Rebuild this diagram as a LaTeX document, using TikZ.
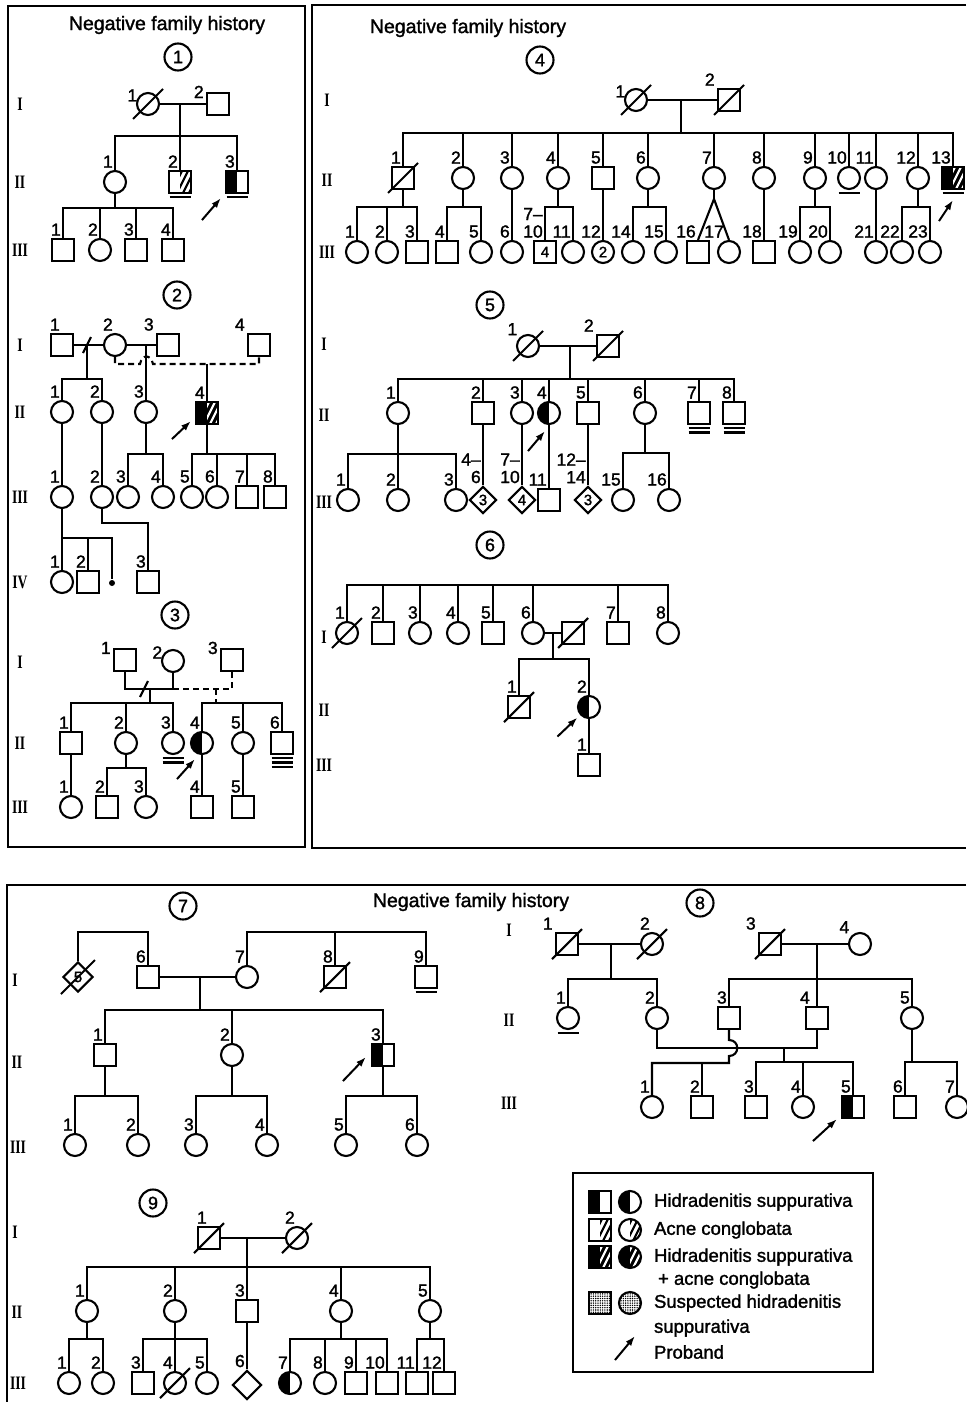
\documentclass[tikz,border=0pt]{standalone}
\usepackage{fontspec}
\setmainfont[FakeBold=1.5]{Liberation Sans}
\newfontfamily\romfont[FakeStretch=0.72]{Liberation Serif}
\usetikzlibrary{arrows.meta, positioning, shapes.geometric, patterns.meta, calc}

% diagonal strokes inside the right half of a symbol
\newcommand{\stripes}[1]{\foreach \o in {-15,-9,-3,3,9} \draw[line width=2.2pt, #1] ([xshift=\o pt]path picture bounding box.south) -- ++(13pt,26pt);}

\tikzset{
  sym/.style={draw, inner sep=0pt, minimum size=22pt, font=\fontsize{15}{15}\selectfont},
  male/.style={sym, rectangle},
  female/.style={sym, circle},
  sexless/.style={sym, diamond, minimum size=27pt},
  lab/.style={inner sep=1.2pt, font=\fontsize{17.5}{17.5}\selectfont},
  nl/.style={label={[lab, anchor=south east]north:#1}},
  nl2/.style={label={[lab, align=right, anchor=south east]north:#1}},
  wl/.style={label={[lab, anchor=south east]north west:#1}},
  sl/.style={label={[lab, anchor=east]north west:#1}},
  hs/.style={path picture={\fill (path picture bounding box.south west) rectangle (path picture bounding box.north);}},
  ac/.style={path picture={\clip (path picture bounding box.south) rectangle (path picture bounding box.north east);
    \stripes{black}}},
  hsac/.style={path picture={\fill (path picture bounding box.south west) rectangle (path picture bounding box.north east);
    \clip (path picture bounding box.south) rectangle (path picture bounding box.north east);
    \stripes{white}}},
  sus/.style={path picture={\fill[pattern={Dots[radius=0.8pt, distance=2.3pt]}] (path picture bounding box.south west) rectangle (path picture bounding box.north east);}},
  circnum/.style={draw, circle, minimum size=27pt, inner sep=0pt, font=\fontsize{18}{18}\selectfont},
  gen/.style={font=\romfont\bfseries\fontsize{19}{19}\selectfont},
  heading/.style={font=\fontsize{19.5}{19.5}\selectfont},
  keytext/.style={anchor=west, inner sep=0pt, font=\fontsize{18.5}{18.5}\selectfont},
  arr/.style={-{Latex[length=10pt, width=7pt]}, line width=2pt},
  dashline/.style={dash pattern=on 6pt off 4pt}
}

% slash through a deceased person
\newcommand{\deceased}[2][15pt]{\draw ([shift={(-#1,-#1)}]#2.center) -- ([shift={(#1,#1)}]#2.center);}
% short stroke for a divorce
\newcommand{\divorce}[1]{\draw ([shift={(-4pt,-8pt)}]#1) -- ([shift={(4pt,8pt)}]#1);}
% one or more lines under a symbol
\newcommand{\unline}[2][1]{\foreach \nn in {1,...,#1}{\draw ([shift={(-10.5pt,{(1.0-4.2*\nn)*1pt})}]#2.south) -- ([shift={(10.5pt,{(1.0-4.2*\nn)*1pt})}]#2.south);}}

\begin{document}
\begin{tikzpicture}[x=1pt, y=-1pt, line width=2.1pt]
\useasboundingbox (0,0) rectangle (966,1402);

% Frames
\draw (8,6) rectangle (305,847);
\draw (966,5) -- (312,5) -- (312,848) -- (966,848);
\draw (966,885) -- (7,885) -- (7,1402);

% ---------------- Pedigree 1 ----------------
\node[heading] (t1) at (167,25) {Negative family history};
\node[circnum] (c1) at (178,57) {1};
\node[gen] (g1-1) at (20,104) {I};
\node[gen] (g1-2) at (20,182) {II};
\node[gen] (g1-3) at (20,250) {III};
\node[female, sl=1] (p1-I-1) at (148,104) {};
\node[male, sl=2] (p1-I-2) at (218,104) {};
\deceased{p1-I-1}
\coordinate (p1-m) at (180,104);
\coordinate (p1-b) at (180,136);
\draw (p1-I-1) -- (p1-I-2);
\draw (p1-m) -- (p1-b);
\node[female, nl=1] (p1-II-1) at (115,182) {};
\node[male, ac, nl=2] (p1-II-2) at (180,182) {};
\node[male, hs, nl=3] (p1-II-3) at (237,182) {};
\unline{p1-II-2} \unline{p1-II-3}
\draw (p1-II-1.north) |- (p1-b) -| (p1-II-3.north);
\draw (p1-II-2.north) -- (p1-b);
\draw[arr] ([shift={(-23pt,-26pt)}]p1-II-3.south west) -- ([shift={(-4pt,-4pt)}]p1-II-3.south west);
\foreach \n/\x/\s in {1/63/rectangle, 2/100/circle, 3/136/rectangle, 4/173/rectangle}
  \node[sym, shape=\s, nl=\n] (p1-III-\n) at (\x,250) {};
\coordinate (p1-b2) at (115,208);
\draw (p1-II-1) -- (p1-b2);
\draw (p1-III-1.north) |- (p1-b2) -| (p1-III-4.north);
\foreach \n in {2,3} \draw (p1-III-\n.north) -- (p1-III-\n.north |- p1-b2);

% ---------------- Pedigree 2 ----------------
\node[circnum] (c2) at (177,295) {2};
\node[gen] (g2-1) at (20,345) {I};
\node[gen] (g2-2) at (20,412) {II};
\node[gen] (g2-3) at (20,497) {III};
\node[gen] (g2-4) at (20,582) {IV};
\node[male, nl=1] (p2-I-1) at (62,345) {};
\node[female, nl=2] (p2-I-2) at (115,345) {};
\node[male, wl=3] (p2-I-3) at (168,345) {};
\node[male, wl=4] (p2-I-4) at (259,345) {};
\coordinate (p2-m1) at (87,345);
\coordinate (p2-b1) at (87,379);
\coordinate (p2-m2) at (146,345);
\coordinate (p2-h1) at (140,364);
\coordinate (p2-h2) at (153,364);
\coordinate (p2-m3) at (207,364);
\draw (p2-I-1) -- (p2-I-2);
\draw (p2-I-2) -- (p2-I-3);
\divorce{p2-m1}
\draw (p2-m1) -- (p2-b1);
\draw[dashline] (p2-I-2.south) |- (p2-h1) .. controls +(2,-10) and +(-2,-10) .. (p2-h2) -| (p2-I-4.south);
\node[female, nl=1] (p2-II-1) at (62,412) {};
\node[female, nl=2] (p2-II-2) at (102,412) {};
\node[female, nl=3] (p2-II-3) at (146,412) {};
\node[male, hsac, nl=4] (p2-II-4) at (207,413) {};
\draw (p2-II-1.north) |- (p2-b1) -| (p2-II-2.north);
\draw (p2-m2) -- (p2-II-3);
\draw (p2-m3) -- (p2-II-4);
\draw[arr] ([shift={(-23pt,-14pt)}]p2-II-4.south west) -- ([shift={(-4pt,4pt)}]p2-II-4.south west);
\foreach \n/\x/\s in {1/62/circle, 2/102/circle, 3/128/circle, 4/163/circle, 5/192/circle, 6/217/circle, 7/247/rectangle, 8/275/rectangle}
  \node[sym, shape=\s, nl=\n] (p2-III-\n) at (\x,497) {};
\coordinate (p2-b2) at (146,454);
\coordinate (p2-b3) at (207,454);
\draw (p2-II-1) -- (p2-III-1);
\draw (p2-II-2) -- (p2-III-2);
\draw (p2-II-3) -- (p2-b2);
\draw (p2-III-3.north) |- (p2-b2) -| (p2-III-4.north);
\draw (p2-II-4) -- (p2-b3);
\draw (p2-III-5.north) |- (p2-b3) -| (p2-III-8.north);
\foreach \n in {6,7} \draw (p2-III-\n.north) -- (p2-III-\n.north |- p2-b3);
\node[female, nl=1] (p2-IV-1) at (62,582) {};
\node[male, nl=2] (p2-IV-2) at (88,582) {};
\node[circle, fill, inner sep=0pt, minimum size=6pt] (p2-IV-x) at (112,583) {};
\node[male, nl=3] (p2-IV-3) at (148,582) {};
\coordinate (p2-b4) at (62,538);
\coordinate (p2-k) at (148,523);
\draw (p2-III-1) -- (p2-IV-1);
\draw (p2-b4) -| (p2-IV-x.north);
\draw (p2-IV-2.north) -- (p2-IV-2.north |- p2-b4);
\draw (p2-III-2.south) |- (p2-k) -- (p2-IV-3.north);

% ---------------- Pedigree 3 ----------------
\node[circnum] (c3) at (175,615) {3};
\node[gen] (g3-1) at (20,662) {I};
\node[gen] (g3-2) at (20,743) {II};
\node[gen] (g3-3) at (20,807) {III};
\node[male, sl=1] (p3-I-1) at (125,660) {};
\node[female, sl=2] (p3-I-2) at (173,661) {};
\node[male, sl=3] (p3-I-3) at (232,660) {};
\coordinate (p3-u) at (150,689);
\coordinate (p3-d) at (144,689);
\coordinate (p3-b1) at (150,703);
\coordinate (p3-v) at (216,689);
\coordinate (p3-b2) at (216,703);
\draw (p3-I-1.south) |- (p3-u) -| (p3-I-2.south);
\divorce{p3-d}
\draw[dashline] (p3-I-2.south |- p3-u) -| (p3-I-3.south);
\draw[dashline] (p3-v) -- (p3-b2);
\draw (p3-u) -- (p3-b1);
\node[male, nl=1] (p3-II-1) at (71,743) {};
\node[female, nl=2] (p3-II-2) at (126,743) {};
\node[female, nl=3] (p3-II-3) at (173,743) {};
\node[female, hs, nl=4] (p3-II-4) at (202,743) {};
\node[female, nl=5] (p3-II-5) at (243,743) {};
\node[male, nl=6] (p3-II-6) at (282,743) {};
\unline[2]{p3-II-3}
\unline[3]{p3-II-6}
\draw (p3-II-1.north) |- (p3-b1) -| (p3-II-3.north);
\draw (p3-II-2.north) -- (p3-II-2.north |- p3-b1);
\draw (p3-II-4.north) |- (p3-b2) -| (p3-II-6.north);
\draw (p3-II-5.north) -- (p3-II-5.north |- p3-b2);
\draw[arr] ([shift={(-25pt,-24pt)}]p3-II-4.south) -- ([shift={(-7pt,-4pt)}]p3-II-4.south);
\node[female, nl=1] (p3-III-1) at (71,807) {};
\node[male, nl=2] (p3-III-2) at (107,807) {};
\node[female, nl=3] (p3-III-3) at (146,807) {};
\node[male, nl=4] (p3-III-4) at (202,807) {};
\node[male, nl=5] (p3-III-5) at (243,807) {};
\coordinate (p3-b3) at (126,768);
\draw (p3-II-1) -- (p3-III-1);
\draw (p3-II-2) -- (p3-b3);
\draw (p3-III-2.north) |- (p3-b3) -| (p3-III-3.north);
\draw (p3-II-4) -- (p3-III-4);
\draw (p3-II-5) -- (p3-III-5);

% ---------------- Pedigree 4 ----------------
\node[heading] (t2) at (468,28) {Negative family history};
\node[circnum] (c4) at (540,60) {4};
\node[gen] (g4-1) at (327,100) {I};
\node[gen] (g4-2) at (327,180) {II};
\node[gen] (g4-3) at (327,252) {III};
\node[female, sl=1] (p4-I-1) at (636,100) {};
\node[male, wl=2] (p4-I-2) at (729,100) {};
\deceased{p4-I-1} \deceased{p4-I-2}
\coordinate (p4-m) at (681,100);
\coordinate (p4-b) at (681,133);
\draw (p4-I-1) -- (p4-I-2);
\draw (p4-m) -- (p4-b);
\foreach \n/\x/\s in {1/403/rectangle, 2/463/circle, 3/512/circle, 4/558/circle, 5/603/rectangle, 6/648/circle, 7/714/circle, 8/764/circle, 9/815/circle, 10/849/circle, 11/876/circle, 12/918/circle}
  \node[sym, shape=\s, nl=\n] (p4-II-\n) at (\x,178) {};
\node[male, hsac, nl=13] (p4-II-13) at (953,178) {};
\deceased{p4-II-1}
\unline{p4-II-10} \unline{p4-II-13}
\draw (p4-II-1.north) |- (p4-b) -| (p4-II-13.north);
\foreach \n in {2,...,12} \draw (p4-II-\n.north) -- (p4-II-\n.north |- p4-b);
\draw[arr] ([shift={(-14pt,-31pt)}]p4-II-13.south) -- ([shift={(0pt,-10pt)}]p4-II-13.south);
\foreach \n/\x/\s in {1/357/circle, 2/387/circle, 3/417/rectangle, 4/447/rectangle, 5/481/circle, 6/512/circle, 11/573/circle, 14/633/circle, 15/666/circle, 18/764/rectangle, 19/800/circle, 20/830/circle, 21/876/circle, 22/902/circle, 23/930/circle}
  \node[sym, shape=\s, nl=\n] (p4-III-\n) at (\x,252) {};
\node[male, nl2={7\textendash\\10}] (p4-III-7) at (545,252) {4};
\node[female, nl=12] (p4-III-12) at (603,252) {2};
\node[male, nl=16] (p4-III-16) at (698,252) {};
\node[female, label={[lab, anchor=south east, xshift=-3pt]north:17}] (p4-III-17) at (729,252) {};
\coordinate (p4-b1) at (403,207);
\coordinate (p4-b2) at (463,207);
\coordinate (p4-b3) at (558,207);
\coordinate (p4-b4) at (648,207);
\coordinate (p4-tw) at (714,199);
\coordinate (p4-b5) at (815,207);
\coordinate (p4-b6) at (918,207);
\draw (p4-II-1) -- (p4-b1);
\draw (p4-III-1.north) |- (p4-b1) -| (p4-III-3.north);
\draw (p4-III-2.north) -- (p4-III-2.north |- p4-b1);
\draw (p4-II-2) -- (p4-b2);
\draw (p4-III-4.north) |- (p4-b2) -| (p4-III-5.north);
\draw (p4-II-3) -- (p4-III-6);
\draw (p4-II-4) -- (p4-b3);
\draw (p4-III-7.north) |- (p4-b3) -| (p4-III-11.north);
\draw (p4-II-5) -- (p4-III-12);
\draw (p4-II-6) -- (p4-b4);
\draw (p4-III-14.north) |- (p4-b4) -| (p4-III-15.north);
\draw (p4-II-7) -- (p4-tw);
\draw (p4-III-16.north) -- (p4-tw) -- (p4-III-17.north);
\draw (p4-II-8) -- (p4-III-18);
\draw (p4-II-9) -- (p4-b5);
\draw (p4-III-19.north) |- (p4-b5) -| (p4-III-20.north);
\draw (p4-II-11) -- (p4-III-21);
\draw (p4-II-12) -- (p4-b6);
\draw (p4-III-22.north) |- (p4-b6) -| (p4-III-23.north);

% ---------------- Pedigree 5 ----------------
\node[circnum] (c5) at (490,305) {5};
\node[gen] (g5-1) at (324,344) {I};
\node[gen] (g5-2) at (324,415) {II};
\node[gen] (g5-3) at (324,502) {III};
\node[female, wl=1] (p5-I-1) at (528,346) {};
\node[male, wl=2] (p5-I-2) at (608,346) {};
\deceased{p5-I-1} \deceased{p5-I-2}
\coordinate (p5-m) at (570,346);
\coordinate (p5-b) at (570,379);
\draw (p5-I-1) -- (p5-I-2);
\draw (p5-m) -- (p5-b);
\foreach \n/\x/\s in {1/398/circle, 2/483/rectangle, 3/522/circle, 5/588/rectangle, 6/645/circle, 7/699/rectangle, 8/734/rectangle}
  \node[sym, shape=\s, nl=\n] (p5-II-\n) at (\x,413) {};
\node[female, hs, nl=4] (p5-II-4) at (549,413) {};
\unline[2]{p5-II-7} \unline[2]{p5-II-8}
\draw (p5-II-1.north) |- (p5-b) -| (p5-II-8.north);
\foreach \n in {2,...,7} \draw (p5-II-\n.north) -- (p5-II-\n.north |- p5-b);
\draw[arr] ([shift={(-21pt,-26pt)}]p5-II-4.south) -- ([shift={(-4pt,-6pt)}]p5-II-4.south);
\foreach \n/\x in {1/348, 2/398, 3/456, 15/623, 16/669}
  \node[female, nl=\n] (p5-III-\n) at (\x,500) {};
\node[sexless, nl2={4\textendash\\6}] (p5-III-4) at (483,500) {3};
\node[sexless, nl2={7\textendash\\10}] (p5-III-7) at (522,500) {4};
\node[male, nl=11] (p5-III-11) at (549,500) {};
\node[sexless, nl2={12\textendash\\14}] (p5-III-12) at (588,500) {3};
\coordinate (p5-b1) at (398,454);
\coordinate (p5-b2) at (645,453);
\draw (p5-II-1) -- (p5-III-2);
\draw (p5-III-1.north) |- (p5-b1) -| (p5-III-3.north);
\draw (p5-II-2) -- (p5-III-4);
\draw (p5-II-3) -- (p5-III-7);
\draw (p5-II-4) -- (p5-III-11);
\draw (p5-II-5) -- (p5-III-12);
\draw (p5-II-6) -- (p5-b2);
\draw (p5-III-15.north) |- (p5-b2) -| (p5-III-16.north);

% ---------------- Pedigree 6 ----------------
\node[circnum] (c6) at (490,545) {6};
\node[gen] (g6-1) at (324,637) {I};
\node[gen] (g6-2) at (324,710) {II};
\node[gen] (g6-3) at (324,765) {III};
\foreach \n/\x/\s in {1/347/circle, 2/383/rectangle, 3/420/circle, 4/458/circle, 5/493/rectangle, 6/533/circle, 7/618/rectangle, 8/668/circle}
  \node[sym, shape=\s, nl=\n] (p6-I-\n) at (\x,633) {};
\node[male] (p6-I-s) at (573,633) {};
\deceased{p6-I-1} \deceased{p6-I-s}
\coordinate (p6-b0) at (500,585);
\draw (p6-I-1.north) |- (p6-b0) -| (p6-I-8.north);
\foreach \n in {2,...,7} \draw (p6-I-\n.north) -- (p6-I-\n.north |- p6-b0);
\coordinate (p6-m) at (553,633);
\coordinate (p6-b) at (553,659);
\draw (p6-I-6) -- (p6-I-s);
\draw (p6-m) -- (p6-b);
\node[male, nl=1] (p6-II-1) at (519,707) {};
\node[female, hs, nl=2] (p6-II-2) at (589,707) {};
\deceased{p6-II-1}
\draw (p6-II-1.north) |- (p6-b) -| (p6-II-2.north);
\draw[arr] ([shift={(-23pt,-21pt)}]p6-II-2.south west) -- ([shift={(-3pt,-2pt)}]p6-II-2.south west);
\node[male, nl=1] (p6-III-1) at (589,765) {};
\draw (p6-II-2) -- (p6-III-1);

% ---------------- Pedigree 7 ----------------
\node[heading] (t3) at (471,902) {Negative family history};
\node[circnum] (c7) at (183,906) {7};
\node[gen] (g7-1) at (15,980) {I};
\node[gen] (g7-2) at (17,1062) {II};
\node[gen] (g7-3) at (18,1147) {III};
\node[sexless, minimum size=30pt] (p7-I-5) at (78,977) {5};
\node[male, nl=6] (p7-I-6) at (148,977) {};
\node[female, nl=7] (p7-I-7) at (247,977) {};
\node[male, nl=8] (p7-I-8) at (335,977) {};
\node[male, nl=9] (p7-I-9) at (426,977) {};
\deceased[17pt]{p7-I-5} \deceased{p7-I-8}
\unline{p7-I-9}
\coordinate (p7-a) at (148,932);
\coordinate (p7-a2) at (335,932);
\draw (p7-I-5.north) |- (p7-a) -- (p7-I-6.north);
\draw (p7-I-7.north) |- (p7-a2) -| (p7-I-9.north);
\draw (p7-I-8.north) -- (p7-a2);
\coordinate (p7-m) at (200,977);
\coordinate (p7-b) at (200,1010);
\draw (p7-I-6) -- (p7-I-7);
\draw (p7-m) -- (p7-b);
\node[male, nl=1] (p7-II-1) at (105,1055) {};
\node[female, nl=2] (p7-II-2) at (232,1055) {};
\node[male, hs, nl=3] (p7-II-3) at (383,1055) {};
\draw (p7-II-1.north) |- (p7-b) -| (p7-II-3.north);
\draw (p7-II-2.north) -- (p7-II-2.north |- p7-b);
\draw[arr] ([shift={(-28pt,-26pt)}]p7-II-3.west) -- ([shift={(-5pt,-2pt)}]p7-II-3.west);
\foreach \n/\x in {1/75, 2/138, 3/196, 4/267, 5/346, 6/417}
  \node[female, nl=\n] (p7-III-\n) at (\x,1145) {};
\coordinate (p7-b1) at (105,1096);
\coordinate (p7-b2) at (232,1096);
\coordinate (p7-b3) at (383,1096);
\draw (p7-II-1) -- (p7-b1);
\draw (p7-III-1.north) |- (p7-b1) -| (p7-III-2.north);
\draw (p7-II-2) -- (p7-b2);
\draw (p7-III-3.north) |- (p7-b2) -| (p7-III-4.north);
\draw (p7-II-3) -- (p7-b3);
\draw (p7-III-5.north) |- (p7-b3) -| (p7-III-6.north);

% ---------------- Pedigree 8 ----------------
\node[circnum] (c8) at (700,903) {8};
\node[gen] (g8-1) at (509,930) {I};
\node[gen] (g8-2) at (509,1020) {II};
\node[gen] (g8-3) at (509,1103) {III};
\node[male, wl=1] (p8-I-1) at (567,944) {};
\node[female, nl=2] (p8-I-2) at (652,944) {};
\node[male, wl=3] (p8-I-3) at (770,944) {};
\node[female, wl=4] (p8-I-4) at (860,944) {};
\deceased{p8-I-1} \deceased{p8-I-2} \deceased{p8-I-3}
\coordinate (p8-m1) at (611,944);
\coordinate (p8-b1) at (611,979);
\coordinate (p8-m2) at (817,944);
\coordinate (p8-b2) at (817,979);
\draw (p8-I-1) -- (p8-I-2);
\draw (p8-I-3) -- (p8-I-4);
\draw (p8-m1) -- (p8-b1);
\draw (p8-m2) -- (p8-b2);
\node[female, nl=1] (p8-II-1) at (568,1018) {};
\node[female, nl=2] (p8-II-2) at (657,1018) {};
\node[male, nl=3] (p8-II-3) at (729,1018) {};
\node[male, label={[lab, anchor=south east, xshift=-5pt]north:4}] (p8-II-4) at (817,1018) {};
\node[female, nl=5] (p8-II-5) at (912,1018) {};
\unline{p8-II-1}
\draw (p8-II-1.north) |- (p8-b1) -| (p8-II-2.north);
\draw (p8-II-3.north) |- (p8-b2) -| (p8-II-5.north);
\draw (p8-II-4.north) -- (p8-b2);
\coordinate (p8-mm) at (784,1048);
\coordinate (p8-b3) at (784,1062);
\draw (p8-II-2.south) |- (p8-mm) -| (p8-II-4.south);
\draw (p8-mm) -- (p8-b3);
\coordinate (p8-h1) at (729,1040);
\coordinate (p8-h2) at (729,1056);
\coordinate (p8-b4) at (702,1063);
\node[female, nl=1] (p8-III-1) at (652,1107) {};
\node[male, nl=2] (p8-III-2) at (702,1107) {};
\node[male, nl=3] (p8-III-3) at (756,1107) {};
\node[female, nl=4] (p8-III-4) at (803,1107) {};
\node[male, hs, nl=5] (p8-III-5) at (853,1107) {};
\node[male, nl=6] (p8-III-6) at (905,1107) {};
\node[female, nl=7] (p8-III-7) at (957,1107) {};
\draw (p8-II-3.south) -- (p8-h1) .. controls +(11,0) and +(11,0) .. (p8-h2) |- (p8-b4) -| (p8-III-1.north);
\draw (p8-III-2.north) -- (p8-b4);
\draw (p8-III-3.north) |- (p8-b3) -| (p8-III-5.north);
\draw (p8-III-4.north) -- (p8-III-4.north |- p8-b3);
\coordinate (p8-b5) at (912,1062);
\draw (p8-II-5) -- (p8-b5);
\draw (p8-III-6.north) |- (p8-b5) -| (p8-III-7.north);
\draw[arr] ([shift={(-28pt,-22pt)}]p8-III-5.south west) -- ([shift={(-4pt,0pt)}]p8-III-5.south west);

% ---------------- Pedigree 9 ----------------
\node[circnum] (c9) at (153,1203) {9};
\node[gen] (g9-1) at (15,1232) {I};
\node[gen] (g9-2) at (17,1312) {II};
\node[gen] (g9-3) at (18,1383) {III};
\node[male, nl=1] (p9-I-1) at (209,1238) {};
\node[female, nl=2] (p9-I-2) at (297,1238) {};
\deceased{p9-I-1} \deceased{p9-I-2}
\coordinate (p9-m) at (247,1238);
\coordinate (p9-b) at (247,1267);
\draw (p9-I-1) -- (p9-I-2);
\draw (p9-m) -- (p9-b);
\foreach \n/\x/\s in {1/87/circle, 2/175/circle, 3/247/rectangle, 4/341/circle, 5/430/circle}
  \node[sym, shape=\s, nl=\n] (p9-II-\n) at (\x,1311) {};
\draw (p9-II-1.north) |- (p9-b) -| (p9-II-5.north);
\foreach \n in {2,3,4} \draw (p9-II-\n.north) -- (p9-II-\n.north |- p9-b);
\foreach \n/\x/\s in {1/69/circle, 2/103/circle, 3/143/rectangle, 4/175/circle, 5/207/circle, 8/325/circle, 9/356/rectangle, 10/387/rectangle, 11/417/rectangle, 12/444/rectangle}
  \node[sym, shape=\s, nl=\n] (p9-III-\n) at (\x,1383) {};
\node[sexless, minimum size=29pt, nl=6] (p9-III-6) at (247,1385) {};
\node[female, hs, nl=7] (p9-III-7) at (290,1383) {};
\deceased{p9-III-4}
\coordinate (p9-b1) at (87,1339);
\coordinate (p9-b2) at (175,1339);
\coordinate (p9-b3) at (341,1339);
\coordinate (p9-b4) at (430,1339);
\draw (p9-II-1) -- (p9-b1);
\draw (p9-III-1.north) |- (p9-b1) -| (p9-III-2.north);
\draw (p9-II-2) -- (p9-b2);
\draw (p9-III-3.north) |- (p9-b2) -| (p9-III-5.north);
\draw (p9-III-4.north) -- (p9-b2);
\draw (p9-II-3) -- (p9-III-6);
\draw (p9-II-4) -- (p9-b3);
\draw (p9-III-7.north) |- (p9-b3) -| (p9-III-10.north);
\foreach \n in {8,9} \draw (p9-III-\n.north) -- (p9-III-\n.north |- p9-b3);
\draw (p9-II-5) -- (p9-b4);
\draw (p9-III-11.north) |- (p9-b4) -| (p9-III-12.north);

% ---------------- Legend ----------------
\draw (573,1173) rectangle (873,1372);
\node[male, hs] (k1a) at (600,1202) {};
\node[female, hs] (k1b) at (630,1202) {};
\node[keytext] (k1) at (653,1202) {Hidradenitis suppurativa};
\node[male, ac] (k2a) at (600,1230) {};
\node[female, ac] (k2b) at (630,1230) {};
\node[keytext] (k2) at (653,1230) {Acne conglobata};
\node[male, hsac] (k3a) at (600,1257) {};
\node[female, hsac] (k3b) at (630,1257) {};
\node[keytext] (k3) at (653,1257) {Hidradenitis suppurativa};
\node[keytext] (k3x) at (657,1280) {+ acne conglobata};
\node[male, sus] (k4a) at (600,1303) {};
\node[female, sus] (k4b) at (630,1303) {};
\node[keytext] (k4) at (653,1303) {Suspected hidradenitis};
\node[keytext] (k4x) at (653,1328) {suppurativa};
\coordinate (k5s) at (615,1360);
\coordinate (k5e) at (635,1336);
\draw[arr] (k5s) -- (k5e);
\node[keytext] (k5) at (653,1352) {Proband};

\end{tikzpicture}
\end{document}
